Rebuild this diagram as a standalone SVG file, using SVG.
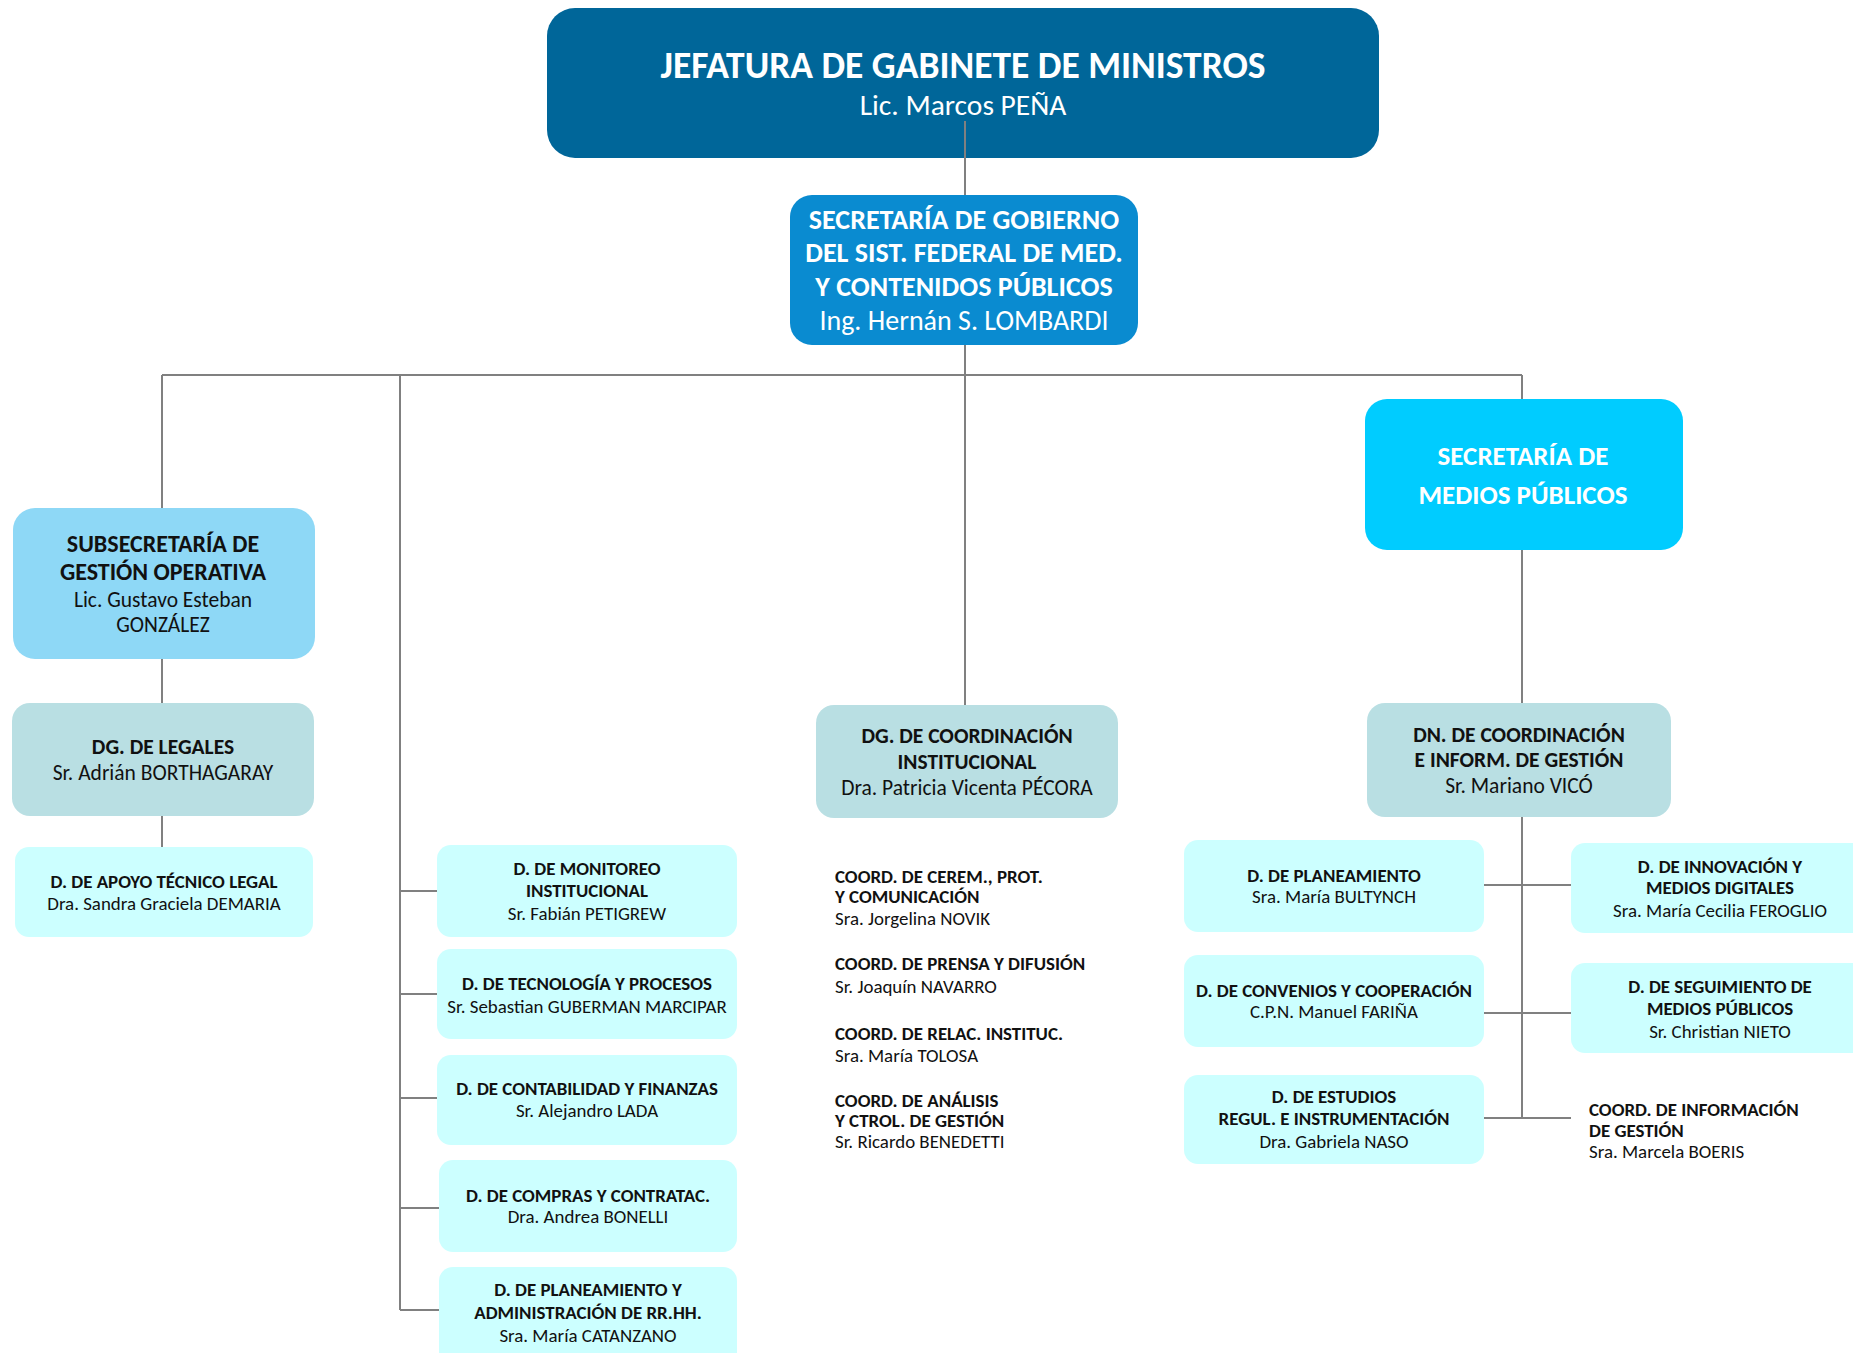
<svg xmlns="http://www.w3.org/2000/svg" width="1853" height="1353" viewBox="0 0 1853 1353">
<style>
text{font-family:Carlito,Lato,"Liberation Sans",sans-serif;text-anchor:middle}
.b{font-weight:bold}
.w{fill:#ffffff}
.k{fill:#111111}
.l{text-anchor:start}
.c{stroke:#808080;stroke-width:2;fill:none}
.top{fill:#006699}
.sec{fill:#0A8BD0}
.sub{fill:#8ED8F6}
.dg{fill:#B9DFE3}
.d{fill:#CCFFFF}
.med{fill:#00CCFF}
.f36{font-size:37.5px}.f27{font-size:29.5px}.f25{font-size:28px}.f21{font-size:24px}.f21r{font-size:21.5px}.f18{font-size:21.5px}.f16{font-size:18.9px}.f26{font-size:27px}
</style>
<rect width="1853" height="1353" fill="#ffffff"/>
<g id="n-jefatura">
<rect class="top" x="547" y="8" width="832" height="150" rx="28"/>
<text class="b w f36" x="963" y="78">JEFATURA DE GABINETE DE MINISTROS</text>
<text class="w f27" x="963" y="115">Lic. Marcos PEÑA</text>
</g>
<g id="n-secgob">
<rect class="sec" x="790" y="195" width="348" height="150" rx="22"/>
<text class="b w f25" x="964" y="229">SECRETARÍA DE GOBIERNO</text>
<text class="b w f25" x="964" y="262">DEL SIST. FEDERAL DE MED.</text>
<text class="b w f25" x="964" y="296">Y CONTENIDOS PÚBLICOS</text>
<text class="w f25" x="964" y="330">Ing. Hernán S. LOMBARDI</text>
</g>
<g id="connectors">
<line class="c" x1="965" y1="121" x2="965" y2="195"/>
<line class="c" x1="965" y1="345" x2="965" y2="705"/>
<line class="c" x1="162" y1="375" x2="1522" y2="375"/>
<line class="c" x1="162" y1="375" x2="162" y2="508"/>
<line class="c" x1="162" y1="659" x2="162" y2="703"/>
<line class="c" x1="162" y1="816" x2="162" y2="847"/>
<line class="c" x1="400" y1="375" x2="400" y2="1310"/>
<line class="c" x1="400" y1="891" x2="437" y2="891"/>
<line class="c" x1="400" y1="994" x2="437" y2="994"/>
<line class="c" x1="400" y1="1098" x2="437" y2="1098"/>
<line class="c" x1="400" y1="1208" x2="439" y2="1208"/>
<line class="c" x1="400" y1="1310" x2="439" y2="1310"/>
<line class="c" x1="1522" y1="375" x2="1522" y2="399"/>
<line class="c" x1="1522" y1="550" x2="1522" y2="703"/>
<line class="c" x1="1522" y1="817" x2="1522" y2="1118"/>
<line class="c" x1="1484" y1="885" x2="1571" y2="885"/>
<line class="c" x1="1484" y1="1013" x2="1571" y2="1013"/>
<line class="c" x1="1484" y1="1118" x2="1571" y2="1118"/>
</g>
<g id="n-subsec">
<rect class="sub" x="13" y="508" width="302" height="151" rx="22"/>
<text class="b k f21" x="163" y="552">SUBSECRETARÍA DE</text>
<text class="b k f21" x="163" y="580">GESTIÓN OPERATIVA</text>
<text class="k f21r" x="163" y="607">Lic. Gustavo Esteban</text>
<text class="k f21r" x="163" y="632">GONZÁLEZ</text>
</g>
<g id="n-legales">
<rect class="dg" x="12" y="703" width="302" height="113" rx="18"/>
<text class="b k f18" x="163" y="754">DG. DE LEGALES</text>
<text class="k f18" x="163" y="780">Sr. Adrián BORTHAGARAY</text>
</g>
<g id="n-apoyo">
<rect class="d" x="15" y="847" width="298" height="90" rx="14"/>
<text class="b k f16" x="164" y="888">D. DE APOYO TÉCNICO LEGAL</text>
<text class="k f16" x="164" y="910">Dra. Sandra Graciela DEMARIA</text>
</g>
<g id="n-monitoreo">
<rect class="d" x="437" y="845" width="300" height="92" rx="14"/>
<text class="b k f16" x="587" y="875">D. DE MONITOREO</text>
<text class="b k f16" x="587" y="897">INSTITUCIONAL</text>
<text class="k f16" x="587" y="920">Sr. Fabián PETIGREW</text>
</g>
<g id="n-tecnologia">
<rect class="d" x="437" y="949" width="300" height="90" rx="14"/>
<text class="b k f16" x="587" y="990">D. DE TECNOLOGÍA Y PROCESOS</text>
<text class="k f16" x="587" y="1013">Sr. Sebastian GUBERMAN MARCIPAR</text>
</g>
<g id="n-contabilidad">
<rect class="d" x="437" y="1055" width="300" height="90" rx="14"/>
<text class="b k f16" x="587" y="1095">D. DE CONTABILIDAD Y FINANZAS</text>
<text class="k f16" x="587" y="1117">Sr. Alejandro LADA</text>
</g>
<g id="n-compras">
<rect class="d" x="439" y="1160" width="298" height="92" rx="14"/>
<text class="b k f16" x="588" y="1202">D. DE COMPRAS Y CONTRATAC.</text>
<text class="k f16" x="588" y="1223">Dra. Andrea BONELLI</text>
</g>
<g id="n-rrhh">
<rect class="d" x="439" y="1267" width="298" height="110" rx="14"/>
<text class="b k f16" x="588" y="1296">D. DE PLANEAMIENTO Y</text>
<text class="b k f16" x="588" y="1319">ADMINISTRACIÓN DE RR.HH.</text>
<text class="k f16" x="588" y="1342">Sra. María CATANZANO</text>
</g>
<g id="n-dgcoord">
<rect class="dg" x="816" y="705" width="302" height="113" rx="18"/>
<text class="b k f18" x="967" y="743">DG. DE COORDINACIÓN</text>
<text class="b k f18" x="967" y="769">INSTITUCIONAL</text>
<text class="k f18" x="967" y="795">Dra. Patricia Vicenta PÉCORA</text>
</g>
<g id="n-coords">
<text class="b k f16 l" x="835" y="883">COORD. DE CEREM., PROT.</text>
<text class="b k f16 l" x="835" y="903">Y COMUNICACIÓN</text>
<text class="k f16 l" x="835" y="925">Sra. Jorgelina NOVIK</text>
<text class="b k f16 l" x="835" y="970">COORD. DE PRENSA Y DIFUSIÓN</text>
<text class="k f16 l" x="835" y="993">Sr. Joaquín NAVARRO</text>
<text class="b k f16 l" x="835" y="1040">COORD. DE RELAC. INSTITUC.</text>
<text class="k f16 l" x="835" y="1062">Sra. María TOLOSA</text>
<text class="b k f16 l" x="835" y="1107">COORD. DE ANÁLISIS</text>
<text class="b k f16 l" x="835" y="1127">Y CTROL. DE GESTIÓN</text>
<text class="k f16 l" x="835" y="1148">Sr. Ricardo BENEDETTI</text>
</g>
<g id="n-medios">
<rect class="med" x="1365" y="399" width="318" height="151" rx="22"/>
<text class="b w f26" x="1523" y="465">SECRETARÍA DE</text>
<text class="b w f26" x="1523" y="504">MEDIOS PÚBLICOS</text>
</g>
<g id="n-dn">
<rect class="dg" x="1367" y="703" width="304" height="114" rx="18"/>
<text class="b k f18" x="1519" y="742">DN. DE COORDINACIÓN</text>
<text class="b k f18" x="1519" y="767">E INFORM. DE GESTIÓN</text>
<text class="k f18" x="1519" y="793">Sr. Mariano VICÓ</text>
</g>
<g id="n-planeamiento">
<rect class="d" x="1184" y="840" width="300" height="92" rx="14"/>
<text class="b k f16" x="1334" y="882">D. DE PLANEAMIENTO</text>
<text class="k f16" x="1334" y="903">Sra. María BULTYNCH</text>
</g>
<g id="n-convenios">
<rect class="d" x="1184" y="955" width="300" height="92" rx="14"/>
<text class="b k f16" x="1334" y="997">D. DE CONVENIOS Y COOPERACIÓN</text>
<text class="k f16" x="1334" y="1018">C.P.N. Manuel FARIÑA</text>
</g>
<g id="n-estudios">
<rect class="d" x="1184" y="1075" width="300" height="89" rx="14"/>
<text class="b k f16" x="1334" y="1103">D. DE ESTUDIOS</text>
<text class="b k f16" x="1334" y="1125">REGUL. E INSTRUMENTACIÓN</text>
<text class="k f16" x="1334" y="1148">Dra. Gabriela NASO</text>
</g>
<g id="n-innovacion">
<rect class="d" x="1571" y="843" width="300" height="90" rx="14"/>
<text class="b k f16" x="1720" y="873">D. DE INNOVACIÓN Y</text>
<text class="b k f16" x="1720" y="894">MEDIOS DIGITALES</text>
<text class="k f16" x="1720" y="917">Sra. María Cecilia FEROGLIO</text>
</g>
<g id="n-seguimiento">
<rect class="d" x="1571" y="963" width="300" height="90" rx="14"/>
<text class="b k f16" x="1720" y="993">D. DE SEGUIMIENTO DE</text>
<text class="b k f16" x="1720" y="1015">MEDIOS PÚBLICOS</text>
<text class="k f16" x="1720" y="1038">Sr. Christian NIETO</text>
</g>
<g id="n-coordinfo">
<text class="b k f16 l" x="1589" y="1116">COORD. DE INFORMACIÓN</text>
<text class="b k f16 l" x="1589" y="1137">DE GESTIÓN</text>
<text class="k f16 l" x="1589" y="1158">Sra. Marcela BOERIS</text>
</g>
</svg>
